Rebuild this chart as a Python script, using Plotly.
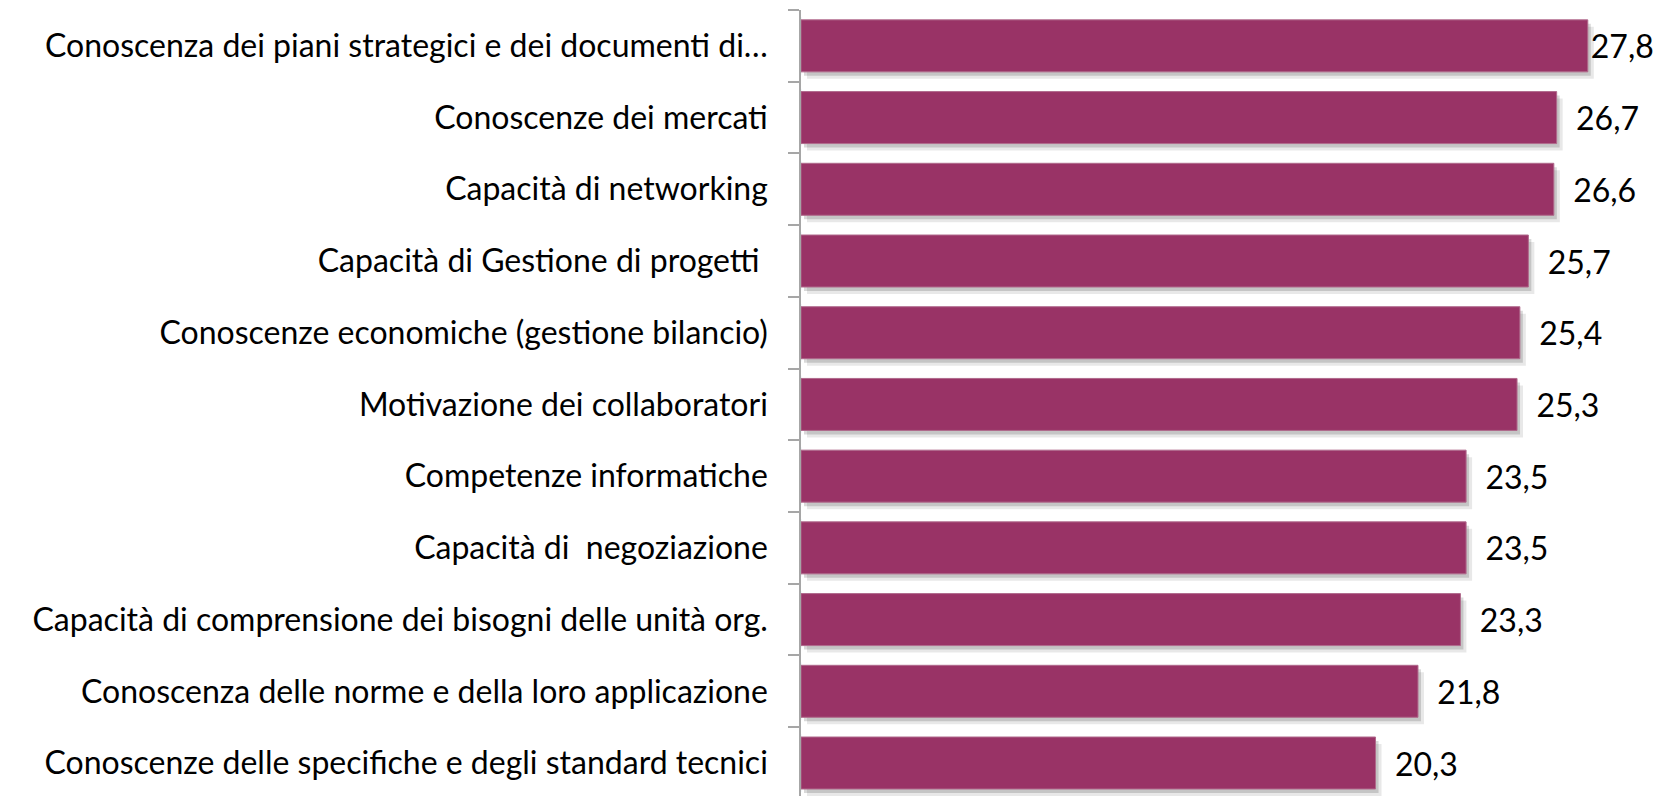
import plotly.graph_objects as go

# Data (top to bottom as shown)
categories = [
    "Conoscenza dei piani strategici e dei documenti di…",
    "Conoscenze dei mercati",
    "Capacità di networking",
    "Capacità di Gestione di progetti\u00a0",
    "Conoscenze economiche (gestione bilancio)",
    "Motivazione dei collaboratori",
    "Competenze informatiche",
    "Capacità di\u00a0\u00a0negoziazione",
    "Capacità di comprensione dei bisogni delle unità org.",
    "Conoscenza delle norme e della loro applicazione",
    "Conoscenze delle specifiche e degli standard tecnici",
]
values = [27.8, 26.7, 26.6, 25.7, 25.4, 25.3, 23.5, 23.5, 23.3, 21.8, 20.3]

BAR_COLOR = "#993366"
FONT = "Lato"

# italian decimal comma; longest bar label sits tight against the bar
vmax = max(values)
labels = [
    (f"{v:.1f}".replace(".", ",") if v == vmax
     else "\u00a0\u00a0" + f"{v:.1f}".replace(".", ","))
    for v in values
]

# page body has an 8px margin, so the figure is a bit smaller than the window
W, H = 1663, 788
ML, MT = 793, 2
X_MAX = 30.74
Y_RANGE = [10.46, -0.5]
px_x = (W - ML) / X_MAX
px_y = (H - MT) / (Y_RANGE[0] - Y_RANGE[1])

fig = go.Figure()

# soft drop shadow on offset overlay axes (x2/y2, x3/y3), bars on top (x4/y4)
shadows = [(6, 7, "rgba(0,0,0,0.09)", "2"),
           (3, 4, "rgba(0,0,0,0.15)", "3")]
for dx, dy, col, n in shadows:
    fig.add_trace(go.Bar(
        x=values, y=categories, orientation="h",
        marker=dict(color=col, line=dict(width=0)),
        width=0.725, xaxis="x" + n, yaxis="y" + n,
        hoverinfo="skip", showlegend=False,
    ))

fig.add_trace(go.Bar(
    x=values, y=categories, orientation="h",
    marker=dict(color=BAR_COLOR, line=dict(color="#b06a8c", width=1)),
    width=0.725, xaxis="x4", yaxis="y4",
    text=labels, textposition="outside", cliponaxis=False,
    textfont=dict(family=FONT, size=32, color="#000000"),
    hovertemplate="%{y}: %{x}<extra></extra>",
    showlegend=False,
))

# invisible trace so the base axes (which carry ticks) are used
fig.add_trace(go.Bar(
    x=[0] * len(values), y=categories, orientation="h",
    marker=dict(color="rgba(0,0,0,0)"), hoverinfo="skip", showlegend=False,
))

layout_axes = {}
for dx, dy, _, n in shadows + [(0, 0, None, "4")]:
    layout_axes[f"xaxis{n}"] = dict(
        overlaying="x", range=[-dx / px_x, X_MAX - dx / px_x],
        visible=False, fixedrange=True,
    )
    layout_axes[f"yaxis{n}"] = dict(
        overlaying="y", type="category",
        categoryorder="array", categoryarray=categories,
        range=[Y_RANGE[0] - dy / px_y, Y_RANGE[1] - dy / px_y],
        visible=False, fixedrange=True,
    )

fig.update_layout(
    width=W, height=H,
    margin=dict(l=ML, r=0, t=MT, b=0, pad=0),
    plot_bgcolor="white", paper_bgcolor="white",
    xaxis=dict(range=[0, X_MAX], visible=False, fixedrange=True),
    yaxis=dict(
        type="category", categoryorder="array", categoryarray=categories,
        range=Y_RANGE,
        showline=True, linecolor="#a6a6a6", linewidth=1.5,
        ticks="outside", tickson="boundaries", ticklen=11,
        tickcolor="#a6a6a6", tickwidth=1.5,
        ticklabelstandoff=25,
        tickfont=dict(family=FONT, size=32, color="#000000"),
        showgrid=False, zeroline=False, automargin=False,
        fixedrange=True,
    ),
    font=dict(family=FONT),
    **layout_axes,
)

fig.write_html("out.html")
